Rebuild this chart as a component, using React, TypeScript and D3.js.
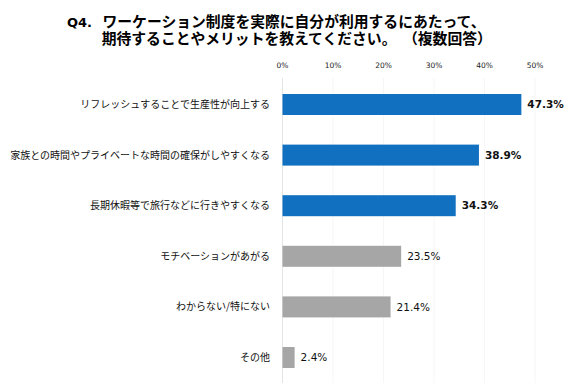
import React from "react";
import * as d3 from "d3";

const categories = [
  "リフレッシュすることで生産性が向上する",
  "家族との時間やプライベートな時間の確保がしやすくなる",
  "長期休暇等で旅行などに行きやすくなる",
  "モチベーションがあがる",
  "わからない/特にない",
  "その他",
];
const values = [47.3, 38.9, 34.3, 23.5, 21.4, 2.4];
const highlighted = [true, true, true, false, false, false];
const ticks = [0, 10, 20, 30, 40, 50];
const titleNumber = "Q4.";
const titleLine1 = "ワーケーション制度を実際に自分が利用するにあたって、";
const titleLine2 = "期待することやメリットを教えてください。";
const titleNote = "（複数回答）";

const W = 575;
const H = 386;
const FONT = "'Noto Sans CJK JP', 'Noto Sans', sans-serif";
const LATIN = "Verdana, 'DejaVu Sans', 'Noto Sans CJK JP', sans-serif";

export default function App() {
  const x = d3.scaleLinear().domain([0, 50]).range([282.5, 535]);
  const y = d3
    .scaleBand<string>()
    .domain(categories)
    .range([79.2, 382.8])
    .paddingInner(0.585)
    .paddingOuter(0.2925);
  const bw = y.bandwidth();

  return (
    <svg
      width={W}
      height={H}
      style={{ position: "absolute", left: 0, top: 0, background: "#fff" }}
    >
      <text fontFamily={FONT} fontWeight="bold" fontSize={14.8} fill="#000">
        <tspan x={67} y={26.5} fontFamily={LATIN} fontSize={13}>
          {titleNumber}
        </tspan>
        <tspan x={102.5} y={26.5}>
          {titleLine1}
        </tspan>
        <tspan x={101.7} y={44}>
          {titleLine2}
        </tspan>
        <tspan x={403} y={44}>
          {titleNote}
        </tspan>
      </text>

      {ticks.map((t) => (
        <g key={t}>
          <line x1={x(t)} x2={x(t)} y1={78} y2={383} stroke="#f6f6f6" strokeWidth={1} />
          <text
            x={x(t)}
            y={68}
            textAnchor="middle"
            fontFamily={LATIN}
            fontSize={7.5}
            fill="#222"
          >
            {t}%
          </text>
        </g>
      ))}
      <line x1={x(0)} x2={x(0)} y1={78} y2={383} stroke="#e4e4e4" strokeWidth={1} />

      {categories.map((c, i) => {
        const yy = y(c)!;
        const hl = highlighted[i];
        return (
          <g key={c}>
            <text
              x={270}
              y={yy + bw / 2}
              dy="0.35em"
              textAnchor="end"
              fontFamily={FONT}
              fontSize={10}
              fill="#111"
            >
              {c}
            </text>
            <rect
              x={x(0)}
              y={yy}
              width={x(values[i]) - x(0)}
              height={bw}
              fill={hl ? "#1170BF" : "#A6A6A6"}
            />
            <text
              x={x(values[i]) + 6}
              y={yy + bw / 2}
              dy="0.36em"
              fontFamily={LATIN}
              fontWeight={hl ? "bold" : "normal"}
              fontSize={10.5}
              fill="#111"
            >
              {values[i].toFixed(1)}%
            </text>
          </g>
        );
      })}
    </svg>
  );
}
